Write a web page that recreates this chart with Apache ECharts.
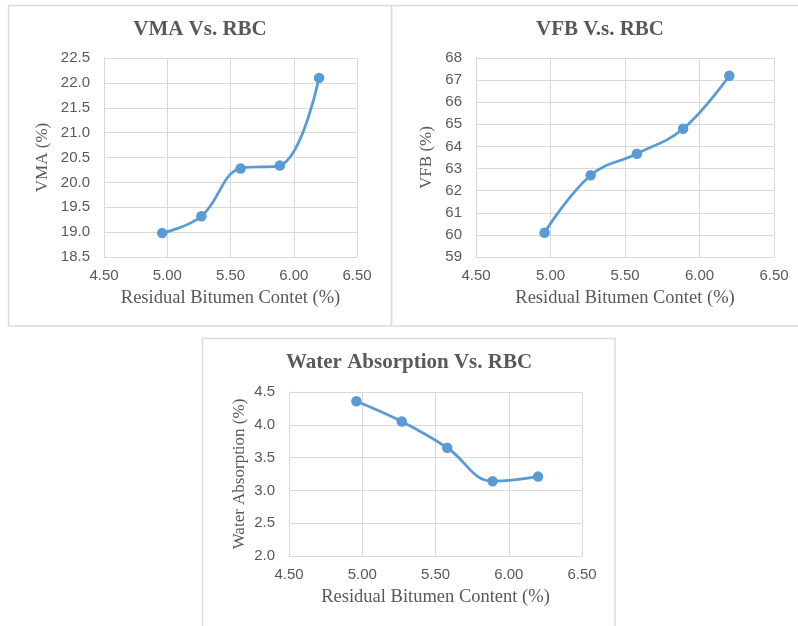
<!DOCTYPE html>
<html>
<head>
<meta charset="utf-8">
<title>Mix properties vs. residual bitumen content</title>
<script src="https://cdn.jsdelivr.net/npm/echarts@6/dist/echarts.min.js"></script>
<style>
  html, body { margin: 0; padding: 0; background: #ffffff; }
  #chart { width: 798px; height: 626px; }
</style>
</head>
<body>
<div id="chart"></div>
<script>
// Residual bitumen content (%) for the five mixes
const rbc = [4.96, 5.27, 5.58, 5.89, 6.20];

// Measured properties
const vma = [18.98, 19.32, 20.28, 20.34, 22.10];
const vfb = [60.1, 62.7, 63.67, 64.8, 67.2];
const waterAbsorption = [4.36, 4.05, 3.65, 3.14, 3.21];

// Axis ranges and ticks
const xTicks = [4.5, 5.0, 5.5, 6.0, 6.5];
const vmaTicks = [18.5, 22.5, 0.5];
const vfbTicks = [59, 68, 1];
const waTicks = [2.0, 4.5, 0.5];

const titles = ['VMA Vs. RBC', 'VFB V.s. RBC', 'Water Absorption Vs. RBC'];
const xNames = ['Residual Bitumen Contet (%)', 'Residual Bitumen Contet (%)', 'Residual Bitumen Content (%)'];
const yNames = ['VMA (%)', 'VFB (%)', 'Water Absorption (%)'];

const TEXT = '#595959';
const GRID = '#d9d9d9';
const LINE = '#5B9BD5';

const panels = [
  { values: vma, ticks: vmaTicks, dec: 1, grid: { left: 104, top: 58, width: 253, height: 199 }, yGap: 53, title: [200, 19] },
  { values: vfb, ticks: vfbTicks, dec: 0, grid: { left: 476, top: 58, width: 298, height: 199 }, yGap: 41, title: [600, 19] },
  { values: waterAbsorption, ticks: waTicks, dec: 1, grid: { left: 289, top: 392, width: 293, height: 164 }, yGap: 41, title: [409, 352] }
];

const option = {
  backgroundColor: '#ffffff',
  animation: false,
  title: panels.map((p, i) => ({
    text: titles[i],
    left: p.title[0],
    top: p.title[1],
    textAlign: 'center',
    padding: 0,
    textStyle: { fontFamily: 'Liberation Serif', fontWeight: 'bold', fontSize: 21, color: TEXT }
  })),
  graphic: [
    { type: 'rect', shape: { x: 8.5, y: 5.5, width: 383, height: 320.5 }, style: { fill: 'none', stroke: '#dcdcdc', lineWidth: 1.5 }, silent: true },
    { type: 'rect', shape: { x: 391.5, y: 5.5, width: 430, height: 320.5 }, style: { fill: 'none', stroke: '#dcdcdc', lineWidth: 1.5 }, silent: true },
    { type: 'rect', shape: { x: 202.5, y: 338.5, width: 412.5, height: 320 }, style: { fill: 'none', stroke: '#dcdcdc', lineWidth: 1.5 }, silent: true }
  ],
  grid: panels.map(p => Object.assign({ containLabel: false, outerBoundsMode: 'none' }, p.grid)),
  xAxis: panels.map((p, i) => ({
    type: 'value',
    gridIndex: i,
    min: xTicks[0],
    max: xTicks[xTicks.length - 1],
    interval: xTicks[1] - xTicks[0],
    name: xNames[i],
    nameLocation: 'middle',
    nameGap: 32,
    nameTextStyle: { fontFamily: 'Liberation Serif', fontSize: 18.5, color: TEXT },
    axisLine: { show: true, lineStyle: { color: GRID, width: 1 } },
    axisTick: { show: false },
    axisLabel: { margin: 11, fontFamily: 'Liberation Sans', fontSize: 15, color: TEXT, formatter: v => v.toFixed(2) },
    splitLine: { show: true, lineStyle: { color: GRID, width: 1 } }
  })),
  yAxis: panels.map((p, i) => ({
    type: 'value',
    gridIndex: i,
    min: p.ticks[0],
    max: p.ticks[1],
    interval: p.ticks[2],
    name: yNames[i],
    nameLocation: 'middle',
    nameRotate: 90,
    nameGap: p.yGap,
    nameTextStyle: { fontFamily: 'Liberation Serif', fontSize: 17, color: TEXT },
    axisLine: { show: true, lineStyle: { color: GRID, width: 1 } },
    axisTick: { show: false },
    axisLabel: { margin: 14, fontFamily: 'Liberation Sans', fontSize: 15, color: TEXT, formatter: v => v.toFixed(p.dec) },
    splitLine: { show: true, lineStyle: { color: GRID, width: 1 } }
  })),
  series: panels.map((p, i) => ({
    type: 'line',
    xAxisIndex: i,
    yAxisIndex: i,
    data: rbc.map((x, k) => [x, p.values[k]]),
    smooth: 0.4,
    symbol: 'circle',
    symbolSize: 10.5,
    lineStyle: { color: LINE, width: 2.75 },
    itemStyle: { color: LINE },
    z: 3
  }))
};

const chart = echarts.init(document.getElementById('chart'), null, { renderer: 'canvas' });
chart.setOption(option);
</script>
</body>
</html>
